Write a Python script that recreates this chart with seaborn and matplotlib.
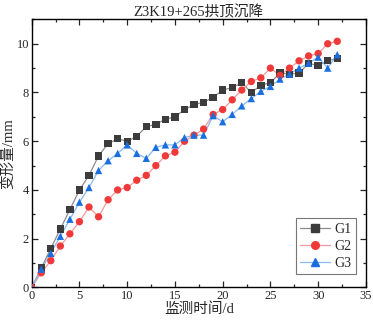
""" Crown settlement of section Z3K19+265, three monitoring points. """
import seaborn as sns
import matplotlib
matplotlib.use('Agg')
import matplotlib.pyplot as plt
from matplotlib.lines import Line2D
from matplotlib.ticker import MultipleLocator
import pandas as pd

days = list(range(33))
g1 = [0, 0.8, 1.6, 2.4, 3.2, 4.0, 4.6, 5.4, 5.9, 6.1, 6.0, 6.2, 6.6, 6.7, 6.9, 7.0,
      7.3, 7.5, 7.6, 7.8, 8.1, 8.2, 8.4, 8.0, 8.3, 8.4, 8.8, 8.75, 8.8, 9.2, 9.1, 9.3, 9.4]
g2 = [0, 0.6, 1.1, 1.7, 2.2, 2.7, 3.3, 2.9, 3.6, 4.0, 4.1, 4.4, 4.6, 5.0, 5.4, 5.55,
      6.0, 6.25, 6.5, 7.1, 7.3, 7.7, 8.1, 8.45, 8.6, 9.0, 8.7, 9.0, 9.3, 9.5, 9.6, 10.0, 10.1]
g3 = [0, 0.75, 1.4, 2.1, 2.8, 3.5, 4.1, 4.8, 5.2, 5.5, 5.85, 5.5, 5.3, 5.75, 5.85, 5.85,
      6.15, 6.25, 6.25, 7.05, 6.8, 7.1, 7.45, 7.75, 8.05, 8.25, 8.55, 8.75, 9.0, 9.2, 9.45, 9.0, 9.55]
names = ['G1', 'G2', 'G3']

df = pd.DataFrame({'t': days * 3,
                   'v': g1 + g2 + g3,
                   'g': [n for n in names for _ in days]})

marker_cols = {'G1': '#3c3c3c', 'G2': '#f03a3a', 'G3': '#1a6fe0'}
line_cols = {'G1': '#8c8c8c', 'G2': '#f59a9a', 'G3': '#8ab8f0'}
marks = {'G1': 's', 'G2': 'o', 'G3': '^'}

sns.set_style('ticks')
plt.rcParams['font.family'] = ['Liberation Serif', 'Noto Sans CJK SC']
plt.rcParams['axes.unicode_minus'] = False

fig = plt.figure(figsize=(3.73, 3.23), dpi=100)
ax = fig.add_axes([0.085, 0.110, 0.896, 0.830])

sns.lineplot(data=df, x='t', y='v', hue='g', palette=line_cols, lw=0.9,
             legend=False, ax=ax)
sns.scatterplot(data=df, x='t', y='v', hue='g', style='g', palette=marker_cols,
                markers=marks, s=28, linewidth=0, legend=False, ax=ax, zorder=3)

ax.set_xlim(0, 35)
ax.set_ylim(0, 11)
ax.xaxis.set_major_locator(MultipleLocator(5))
ax.xaxis.set_minor_locator(MultipleLocator(2.5))
ax.yaxis.set_major_locator(MultipleLocator(2))
ax.yaxis.set_minor_locator(MultipleLocator(1))
ax.tick_params(which='both', direction='in', top=True, right=True, labelsize=9,
               width=0.9, pad=2)
ax.tick_params(which='major', length=4)
ax.tick_params(which='minor', length=2.5)
for s in ax.spines.values():
    s.set_linewidth(1.0)
    s.set_color('black')

ax.set_title('Z3K19+265拱顶沉降', fontsize=10.5, pad=1.5)
ax.set_xlabel('监测时间/d', fontsize=10.5, labelpad=0)
ax.set_ylabel('变形量/mm', fontsize=10.5, labelpad=1)

handles = [Line2D([], [], color=line_cols[n], lw=0.9, marker=marks[n], markersize=5.5,
                  markerfacecolor=marker_cols[n], markeredgecolor=marker_cols[n])
           for n in names]
leg = ax.legend(handles, names, loc='lower right', bbox_to_anchor=(0.97, 0.05),
                borderaxespad=0, fancybox=False, edgecolor='#555555', fontsize=10,
                handlelength=2.2, borderpad=0.3, labelspacing=0.3, handletextpad=0.3)
leg.get_frame().set_linewidth(0.8)

fig.savefig('out.png', dpi=100)
